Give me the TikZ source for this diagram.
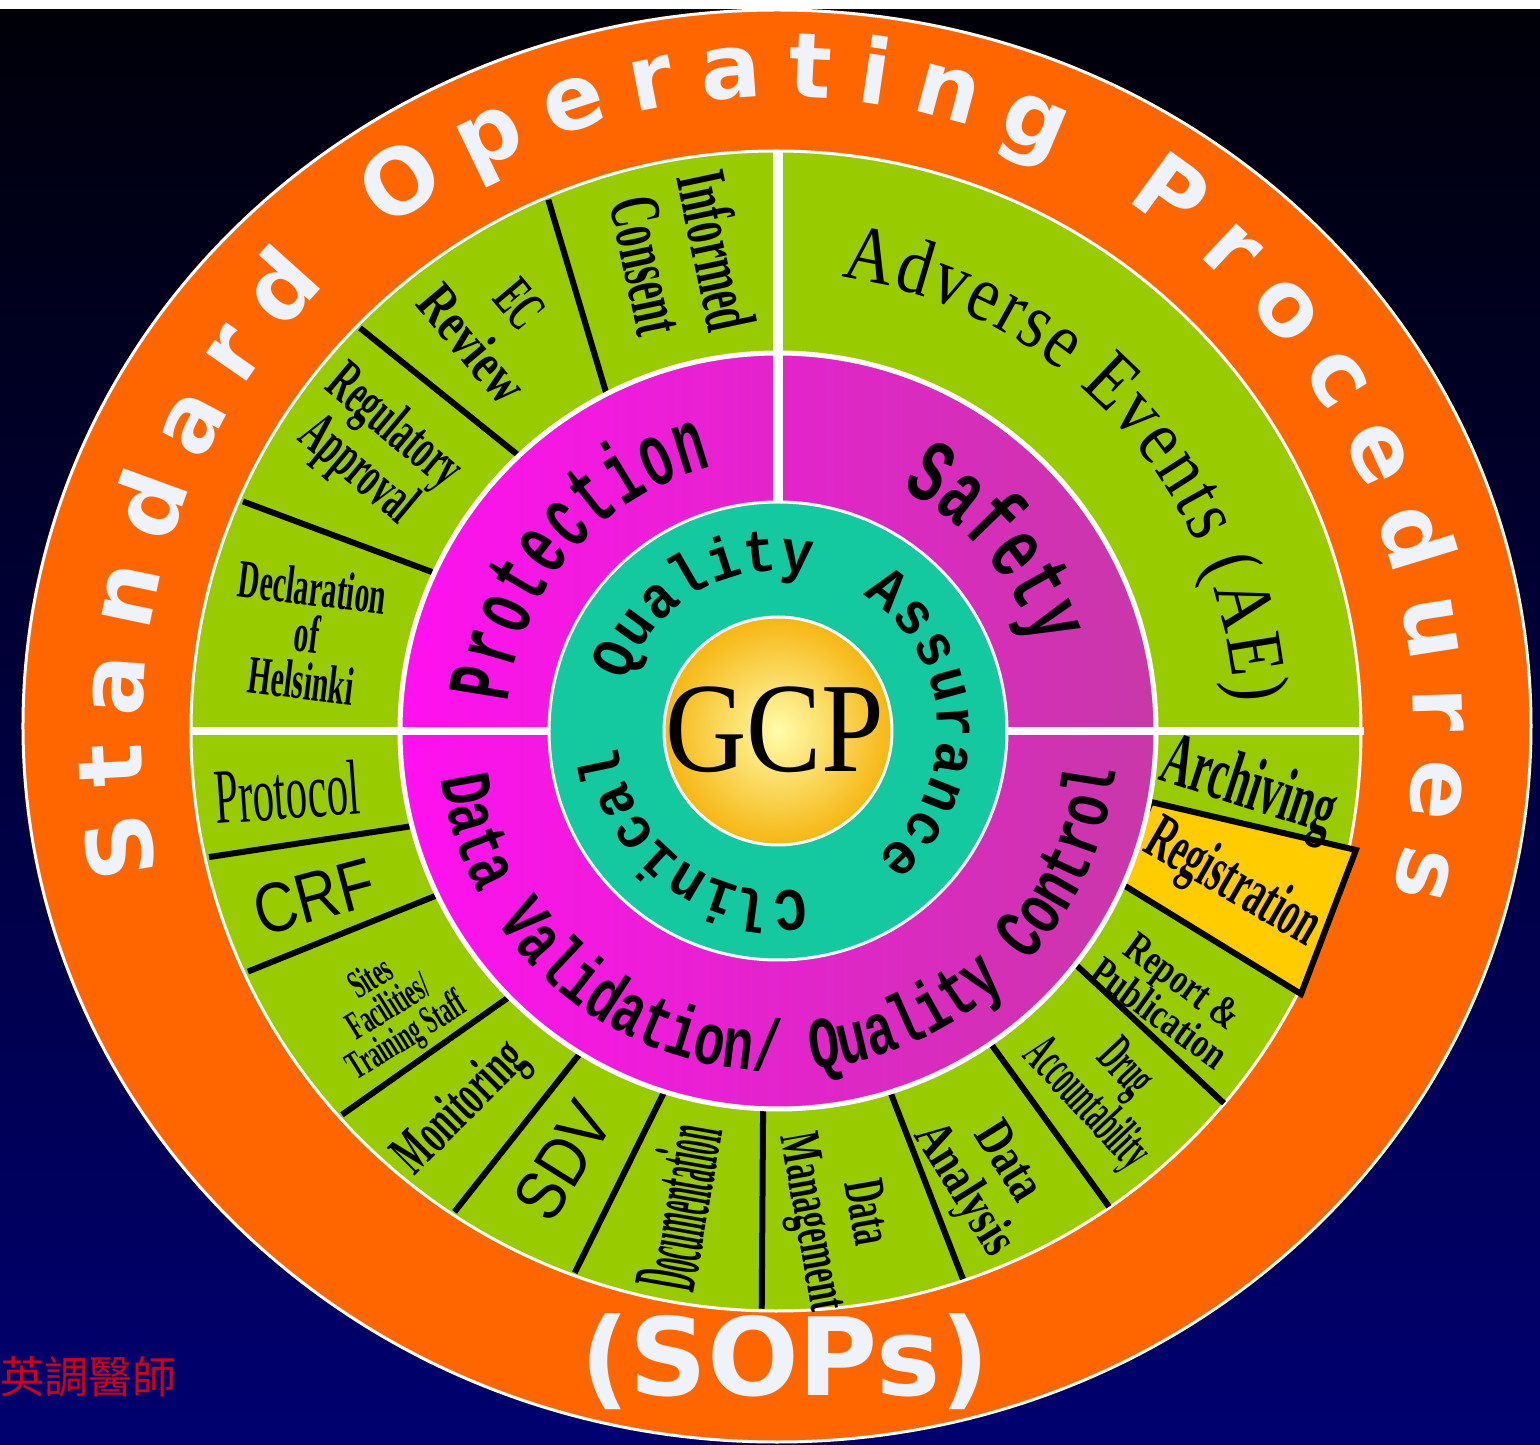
\documentclass[tikz,border=0pt]{standalone}
\usepackage{fontspec}
\setmainfont{Liberation Serif}
\newfontfamily\ringfont{DejaVu Sans}
\newfontfamily\monofont[FakeStretch=0.65]{Liberation Mono}
\newfontfamily\protfont[FakeStretch=0.57]{Liberation Mono}
\newfontfamily\dvfont[FakeStretch=0.7]{Liberation Mono}
\newfontfamily\qafont[FakeStretch=0.9]{Liberation Mono}
\newfontfamily\gcpfont[FakeStretch=0.88]{Liberation Serif}
\newfontfamily\aefont[FakeStretch=0.85]{Liberation Serif}
\newfontfamily\condfont[FakeStretch=0.55]{Liberation Serif}
\newfontfamily\xcondfont[FakeStretch=0.45]{Liberation Serif}
\newfontfamily\semifont[FakeStretch=0.75]{Liberation Serif}
\newfontfamily\heavyfont[FakeStretch=0.28]{Liberation Serif}
\newfontfamily\narrowsans[FakeStretch=0.85]{Liberation Sans}
\newfontfamily\cjkfont{Noto Sans CJK TC}
\usetikzlibrary{decorations.text,shadings}

\definecolor{soporange}{RGB}{255,102,0}
\definecolor{segreen}{RGB}{153,204,0}
\definecolor{qateal}{RGB}{20,200,160}
\definecolor{magleft}{RGB}{255,16,240}
\definecolor{magright}{RGB}{200,56,168}
\definecolor{goldin}{RGB}{255,252,170}
\definecolor{goldout}{RGB}{246,182,18}
\definecolor{regyellow}{RGB}{255,204,0}
\definecolor{ringwhite}{RGB}{238,242,250}
\definecolor{bgtop}{RGB}{0,0,8}
\definecolor{bgmid}{RGB}{0,0,58}
\definecolor{bgbot}{RGB}{0,0,112}
\definecolor{namered}{RGB}{210,0,20}

\newcommand{\fsz}[2]{\fontsize{#1}{#2}\selectfont}

\tikzset{
  seglabel/.style={align=center, inner sep=0pt, text=black},
  divider/.style={line width=6pt, black},
  ringedge/.style={draw=white, line width=3pt},
}

\begin{document}
\begin{tikzpicture}[x=1pt, y=1pt]
\useasboundingbox (-778,-714) rectangle (762,731);
% background
\shade[top color=bgtop, middle color=bgmid, bottom color=bgbot] (-778,-714) rectangle (762,731);
\fill[white] (-778,722) rectangle (762,731);

% rings
\fill[soporange, ringedge] (-1,5) ellipse[x radius=754, y radius=716];
\fill[segreen, ringedge] (-2,0) ellipse[x radius=585, y radius=580];
\foreach \ai/\ao in {117.2/113.2, 133.1/135.8, 155.2/156.6, 194.7/192.6, 205.8/204.6,
    224.9/221.6, 238.6/236.3, 252.7/249.6, 267.7/268.4, 287.2/288.5, 304.2/304.6, 322/319.9}
  \draw[divider] (\ai:370) -- (\ao:583 and 578);
\filldraw[fill=regyellow, draw=black, line width=6pt] (373,-71) -- (578,-119) -- (523,-263) -- (339,-150) -- cycle;
\shade[left color=magleft, right color=magright] (0,0) circle[radius=378];
\draw[white, line width=5pt] (0,0) circle[radius=378];
\draw[white, line width=8pt] (-586,0) -- (586,0);
\draw[white, line width=10pt] (0,0) -- (0,581);
\fill[qateal, ringedge] (0,0) circle[radius=229];
\shadedraw[inner color=goldin, outer color=goldout, ringedge] (0,0) circle[radius=114];

% curved texts
\path[decorate, decoration={text along path, text align=fit to path, text color=ringwhite,
    text={|\ringfont\bfseries\fsz{90}{90}|Standard Operating Procedures}}]
  (193:636 and 634) arc[start angle=193, end angle=-15, x radius=636, y radius=634];
\path[decorate, decoration={text along path, text align=fit to path,
    text={|\aefont\fsz{80}{80}|Adverse Events (AE)}}]
  (82:458) arc[start angle=82, end angle=3.5, radius=458];
\path[decorate, decoration={text along path, text align=fit to path,
    text={|\protfont\bfseries\fsz{90}{90}|Protection}}]
  (174:272) arc[start angle=174, end angle=104, radius=272];
\path[decorate, decoration={text along path, text align=fit to path,
    text={|\monofont\bfseries\fsz{90}{90}|Safety}}]
  (63:272) arc[start angle=63, end angle=18, radius=272];
\path[decorate, decoration={text along path, text align=fit to path,
    text={|\dvfont\bfseries\fsz{73}{73}|Data Validation/ Quality Control}}]
  (188:340) arc[start angle=188, end angle=353, radius=340];
\path[decorate, decoration={text along path, text align=fit to path,
    text={|\qafont\bfseries\fsz{60}{60}|Quality}}]
  (162:160) arc[start angle=162, end angle=78, radius=160];
\path[decorate, decoration={text along path, text align=fit to path,
    text={|\qafont\bfseries\fsz{60}{60}|Assurance}}]
  (58:160) arc[start angle=58, end angle=-52, radius=160];
\path[decorate, decoration={text along path, text align=fit to path,
    text={|\qafont\bfseries\fsz{60}{60}|Clinical}}]
  (280:160) arc[start angle=280, end angle=186, radius=160];

% centre and straight texts
\node[inner sep=0pt] (gcp) at (-3,1) {\gcpfont\fsz{128}{128}GCP};
\node[text=ringwhite, inner sep=0pt, font=\ringfont\bfseries\fsz{108}{108}] (sops) at (7,-631) {(SOPs)};
\node[anchor=west, inner sep=0pt, text=namered, font=\cjkfont\fsz{44}{44}] (author) at (-778,-646) {英調醫師};

% segment labels, top left
\node[seglabel, rotate=-78, font=\condfont\bfseries\fsz{72}{70}] (informed) at (-95,473) {Informed\\Consent};
\node[seglabel, rotate=-50, font=\bfseries\fsz{58}{62}] (ecreview) at (-282,407) {{\condfont EC}\\{\semifont Review}};
\node[seglabel, rotate=-40, font=\condfont\bfseries\fsz{60}{52}] (regulatory) at (-403,281) {Regulatory\\Approval};
\node[seglabel, rotate=-7, font=\condfont\bfseries\fsz{54}{47}] (helsinki) at (-471,97) {Declaration\\of\\Helsinki};

% segment labels, bottom
\node[seglabel, rotate=4, font=\condfont\fsz{78}{78}] (protocol) at (-491,-61) {Protocol};
\node[seglabel, rotate=15, font=\narrowsans\fsz{70}{70}] (crf) at (-464,-166) {CRF};
\node[seglabel, rotate=32, font=\condfont\bfseries\fsz{40}{34}] (sites) at (-388,-278) {Sites\\Facilities/\\Training Staff};
\node[seglabel, rotate=45, font=\condfont\bfseries\fsz{60}{60}] (monitoring) at (-316,-378) {Monitoring};
\node[seglabel, rotate=58, font=\narrowsans\fsz{70}{70}] (sdv) at (-215,-430) {SDV};
\node[seglabel, rotate=80, font=\heavyfont\bfseries\fsz{90}{90}] (documentation) at (-100,-476) {Documentation};
\node[seglabel, rotate=-80, font=\condfont\bfseries\fsz{58}{55}] (datamgmt) at (58,-487) {Data\\Management};
\node[seglabel, rotate=-58, font=\semifont\bfseries\fsz{54}{52}] (analysis) at (206,-446) {Data\\Analysis};
\node[seglabel, rotate=-47, font=\xcondfont\bfseries\fsz{56}{50}] (drug) at (326,-357) {Drug\\Accountability};
\node[seglabel, rotate=-36, font=\semifont\bfseries\fsz{43}{36}] (report) at (393,-266) {Report \&\\Publication};
\node[seglabel, rotate=-30, font=\condfont\bfseries\fsz{66}{66}] (registration) at (454,-154) {Registration};
\node[seglabel, rotate=-18, font=\condfont\bfseries\fsz{76}{76}] (archiving) at (470,-59) {Archiving};
\end{tikzpicture}
\end{document}
